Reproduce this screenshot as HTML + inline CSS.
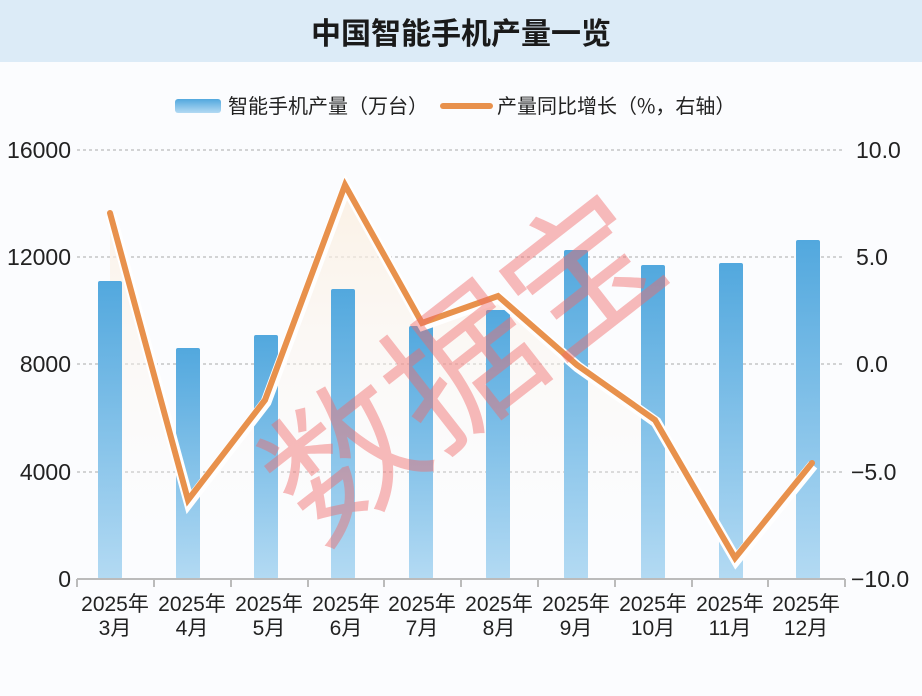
<!DOCTYPE html><html><head><meta charset="utf-8"><style>
body{margin:0;width:922px;height:696px;background:#fbfcfe;font-family:"Liberation Sans","Noto Sans CJK SC",sans-serif;overflow:hidden;position:relative}
.t{position:absolute;left:0;top:0;width:922px;height:62px;background:#dcebf7;text-align:center;line-height:62px;font-size:30px;font-weight:bold;color:#1a1a1a;font-family:"Noto Sans CJK SC",sans-serif}
</style></head><body>
<div class="t">中国智能手机产量一览</div>
<svg width="922" height="696" style="position:absolute;left:0;top:0">
<defs>
<linearGradient id="b" x1="0" y1="0" x2="0" y2="1"><stop offset="0" stop-color="#52a8de"/><stop offset="1" stop-color="#b3daf3"/></linearGradient>
<linearGradient id="f" x1="0" y1="0" x2="0" y2="1"><stop offset="0" stop-color="#fbeede"/><stop offset="1" stop-color="#fbfcfe" stop-opacity="0"/></linearGradient>
</defs>
<g font-family="Liberation Sans,Noto Sans CJK SC,sans-serif" font-size="20" fill="#222">
<rect x="175" y="99" width="46" height="14" rx="3" fill="url(#b)"/>
<text x="228" y="113" font-family="Noto Sans CJK SC,sans-serif">智能手机产量（万台）</text>
<line x1="443" y1="106" x2="490" y2="106" stroke="#e8914c" stroke-width="6" stroke-linecap="round"/>
<text x="497" y="113" font-family="Noto Sans CJK SC,sans-serif">产量同比增长（%，右轴）</text>
</g>
<g stroke="#aaa" stroke-dasharray="3,3" stroke-width="1">
<line x1="77" y1="150" x2="845" y2="150"/><line x1="77" y1="257" x2="845" y2="257"/><line x1="77" y1="364" x2="845" y2="364"/><line x1="77" y1="472" x2="845" y2="472"/>
</g>
<g font-size="23" fill="#222" text-anchor="end">
<text x="71" y="158">16000</text><text x="71" y="265">12000</text><text x="71" y="372">8000</text><text x="71" y="480">4000</text><text x="71" y="587">0</text>
</g>
<g font-size="23" fill="#222">
<text x="856" y="158">10.0</text><text x="856" y="265">5.0</text><text x="856" y="372">0.0</text><text x="851" y="480">−5.0</text><text x="851" y="587">−10.0</text>
</g>
<polygon points="110,213 188,500 265,400 345,185 422,323 498,296 577,365 655,420 735,558 812,463 812,579 110,579" fill="url(#f)" opacity="0.8"/>
<g fill="url(#b)">
<rect x="98" y="281" width="24" height="298" rx="2"/>
<rect x="176" y="348" width="24" height="231" rx="2"/>
<rect x="254" y="335" width="24" height="244" rx="2"/>
<rect x="331" y="289" width="24" height="290" rx="2"/>
<rect x="409" y="326" width="24" height="253" rx="2"/>
<rect x="486" y="310" width="24" height="269" rx="2"/>
<rect x="564" y="250" width="24" height="329" rx="2"/>
<rect x="641" y="265" width="24" height="314" rx="2"/>
<rect x="719" y="263" width="24" height="316" rx="2"/>
<rect x="796" y="240" width="24" height="339" rx="2"/>
</g>
<line x1="77" y1="579" x2="845" y2="579" stroke="#bbb" stroke-width="2"/>
<g stroke="#bbb" stroke-width="2"><line x1="77" y1="579" x2="77" y2="587"/><line x1="154" y1="579" x2="154" y2="587"/><line x1="231" y1="579" x2="231" y2="587"/><line x1="308" y1="579" x2="308" y2="587"/><line x1="384" y1="579" x2="384" y2="587"/><line x1="461" y1="579" x2="461" y2="587"/><line x1="538" y1="579" x2="538" y2="587"/><line x1="615" y1="579" x2="615" y2="587"/><line x1="692" y1="579" x2="692" y2="587"/><line x1="768" y1="579" x2="768" y2="587"/><line x1="845" y1="579" x2="845" y2="587"/></g>
<polyline points="110,213 188,500 265,400 345,185 422,323 498,296 577,365 655,420 735,558 812,463" fill="none" stroke="#fff" stroke-width="11" transform="translate(1,2)"/>
<polyline points="110,213 188,500 265,400 345,185 422,323 498,296 577,365 655,420 735,558 812,463" fill="none" stroke="#e8914c" stroke-width="6" stroke-linecap="round"/>
<text x="465" y="420" font-size="150" fill="#f06a6a" opacity="0.45" text-anchor="middle" transform="rotate(-38 465 370)" font-family="Noto Sans CJK SC,sans-serif">数据宝</text>
<g font-size="21" fill="#222" text-anchor="middle" font-family="Liberation Sans,Noto Sans CJK SC,sans-serif">
<text x="115" y="611">2025年</text><text x="115" y="635">3月</text>
<text x="192" y="611">2025年</text><text x="192" y="635">4月</text>
<text x="269" y="611">2025年</text><text x="269" y="635">5月</text>
<text x="346" y="611">2025年</text><text x="346" y="635">6月</text>
<text x="422" y="611">2025年</text><text x="422" y="635">7月</text>
<text x="499" y="611">2025年</text><text x="499" y="635">8月</text>
<text x="576" y="611">2025年</text><text x="576" y="635">9月</text>
<text x="653" y="611">2025年</text><text x="653" y="635">10月</text>
<text x="730" y="611">2025年</text><text x="730" y="635">11月</text>
<text x="806" y="611">2025年</text><text x="806" y="635">12月</text>
</g>
</svg>
</body></html>
